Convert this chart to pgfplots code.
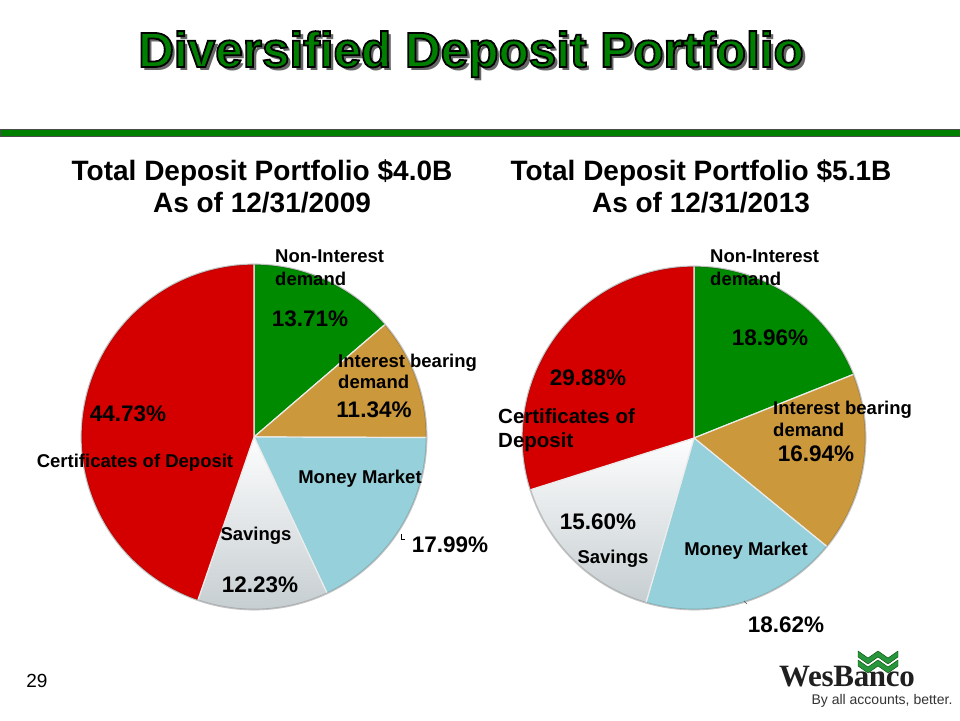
\documentclass[border=0pt]{standalone}
\usepackage{pgfplots}
\pgfplotsset{compat=1.18}
\usepackage{fontspec}
\setmainfont{Liberation Sans}
\newfontfamily\logoserif{Liberation Serif}
\definecolor{tgreen}{RGB}{0,128,0}
\definecolor{sgreen}{RGB}{0,138,0}
\definecolor{sred}{RGB}{212,0,0}
\definecolor{stan}{RGB}{204,152,60}
\definecolor{sblue}{RGB}{150,208,218}
\definecolor{ssav}{RGB}{222,232,236}
\definecolor{logogreen}{RGB}{40,150,60}
\newcommand{\fs}[2]{\fontsize{#1}{#2}\selectfont}
\newcommand{\lbl}{\fs{18.5}{23}\bfseries}
\newcommand{\pct}{\fs{22.5}{26}\bfseries}
\newcommand{\ttext}{\fs{49.5}{50}\bfseries Diversified Deposit Portfolio}
\begin{document}
\begin{tikzpicture}
\begin{axis}[width=960pt,height=720pt,scale only axis,
  xmin=0,xmax=960,ymin=0,ymax=720,hide axis,clip=false]
% ---------- left pie (2009): 13.71, 11.34, 17.99, 12.23, 44.73 ----------
\addplot[fill=sgreen,draw=white!85!gray,line width=1.2pt,domain={90-3.6*13.71}:{90},samples=60,variable=\t]
  ({254+173*cos(\t)},{283+173*sin(\t)}) -- (axis cs:254,283) -- cycle;
\addplot[fill=stan,draw=white!85!gray,line width=1.2pt,domain={90-3.6*(13.71+11.34)}:{90-3.6*13.71},samples=60,variable=\t]
  ({254+173*cos(\t)},{283+173*sin(\t)}) -- (axis cs:254,283) -- cycle;
\addplot[fill=sblue,draw=white!85!gray,line width=1.2pt,domain={90-3.6*(13.71+11.34+17.99)}:{90-3.6*(13.71+11.34)},samples=60,variable=\t]
  ({254+173*cos(\t)},{283+173*sin(\t)}) -- (axis cs:254,283) -- cycle;
\addplot[top color=white!92!ssav,bottom color=ssav!75!gray,draw=white!85!gray,line width=1.2pt,domain={90-3.6*(13.71+11.34+17.99+12.23)}:{90-3.6*(13.71+11.34+17.99)},samples=60,variable=\t]
  ({254+173*cos(\t)},{283+173*sin(\t)}) -- (axis cs:254,283) -- cycle;
\addplot[fill=sred,draw=white!85!gray,line width=1.2pt,domain={90-3.6*100}:{90-3.6*(13.71+11.34+17.99+12.23)},samples=100,variable=\t]
  ({254+173*cos(\t)},{283+173*sin(\t)}) -- (axis cs:254,283) -- cycle;
\draw[black,opacity=0.18,line width=1.6pt] (axis cs:254,283) circle[radius=172.5];
% ---------- right pie (2013): 18.96, 16.94, 18.62, 15.60, 29.88 ----------
\addplot[fill=sgreen,draw=white!85!gray,line width=1.2pt,domain={90-3.6*18.96}:{90},samples=60,variable=\t]
  ({694+172*cos(\t)},{282+172*sin(\t)}) -- (axis cs:694,282) -- cycle;
\addplot[fill=stan,draw=white!85!gray,line width=1.2pt,domain={90-3.6*(18.96+16.94)}:{90-3.6*18.96},samples=60,variable=\t]
  ({694+172*cos(\t)},{282+172*sin(\t)}) -- (axis cs:694,282) -- cycle;
\addplot[fill=sblue,draw=white!85!gray,line width=1.2pt,domain={90-3.6*(18.96+16.94+18.62)}:{90-3.6*(18.96+16.94)},samples=60,variable=\t]
  ({694+172*cos(\t)},{282+172*sin(\t)}) -- (axis cs:694,282) -- cycle;
\addplot[top color=white!92!ssav,bottom color=ssav!75!gray,draw=white!85!gray,line width=1.2pt,domain={90-3.6*(18.96+16.94+18.62+15.60)}:{90-3.6*(18.96+16.94+18.62)},samples=60,variable=\t]
  ({694+172*cos(\t)},{282+172*sin(\t)}) -- (axis cs:694,282) -- cycle;
\addplot[fill=sred,draw=white!85!gray,line width=1.2pt,domain={90-3.6*100}:{90-3.6*(18.96+16.94+18.62+15.60)},samples=80,variable=\t]
  ({694+172*cos(\t)},{282+172*sin(\t)}) -- (axis cs:694,282) -- cycle;
\draw[black,opacity=0.18,line width=1.6pt] (axis cs:694,282) circle[radius=171.5];

% ---------- title: shadow, then green text with black outline ----------
\node[anchor=base,text=black!60] at (axis cs:474.5,649.5) {\ttext};
\node[anchor=base,text=tgreen] at (axis cs:471,653) {\special{pdf:literal direct 2 Tr 1.8 w 0 0 0 RG}\ttext\special{pdf:literal direct 0 Tr}};
% ---------- rule ----------
\draw[fill=tgreen,draw=black!70,line width=0.6pt] (axis cs:0,584) rectangle (axis cs:960,591);
% ---------- subtitles ----------
\node[anchor=base] at (axis cs:262,539) {\fs{28}{28}\bfseries Total Deposit Portfolio \$4.0B};
\node[anchor=base] at (axis cs:262,507) {\fs{28}{28}\bfseries As of 12/31/2009};
\node[anchor=base] at (axis cs:701,539) {\fs{28}{28}\bfseries Total Deposit Portfolio \$5.1B};
\node[anchor=base] at (axis cs:701,507) {\fs{28}{28}\bfseries As of 12/31/2013};
% ---------- left labels ----------
\node[anchor=base west,inner sep=0pt,font=\lbl] at (axis cs:275,457) {Non-Interest};
\node[anchor=base west,inner sep=0pt,font=\lbl] at (axis cs:275,434) {demand};
\node[inner sep=0pt,font=\pct] at (axis cs:310,401) {13.71\%};
\node[anchor=base west,inner sep=0pt,font=\lbl] at (axis cs:338,352) {Interest bearing};
\node[anchor=base west,inner sep=0pt,font=\lbl] at (axis cs:338,331) {demand};
\node[inner sep=0pt,font=\pct] at (axis cs:374,310) {11.34\%};
\node[inner sep=0pt,font=\pct] at (axis cs:128,306) {44.73\%};
\node[inner sep=0pt,font=\lbl] at (axis cs:135,257) {Certificates of Deposit};
\node[inner sep=0pt,font=\lbl] at (axis cs:360,241) {Money Market};
\node[inner sep=0pt,font=\lbl] at (axis cs:256,184) {Savings};
\node[inner sep=0pt,font=\pct] at (axis cs:260,135) {12.23\%};
\node[inner sep=0pt,font=\pct] at (axis cs:450,175) {17.99\%};
\draw[black,line width=0.5pt] (axis cs:401,186) -- (axis cs:401,181) -- (axis cs:405,181);
% ---------- right labels ----------
\node[anchor=base west,inner sep=0pt,font=\lbl] at (axis cs:710,457) {Non-Interest};
\node[anchor=base west,inner sep=0pt,font=\lbl] at (axis cs:710,434) {demand};
\node[inner sep=0pt,font=\pct] at (axis cs:770,382) {18.96\%};
\node[inner sep=0pt,font=\pct] at (axis cs:588,342) {29.88\%};
\node[anchor=west,align=left,inner sep=0pt,font={\fs{20.5}{24}\bfseries}] at (axis cs:498,290) {Certificates of\\Deposit};
\node[anchor=base west,inner sep=0pt,font=\lbl] at (axis cs:773,305) {Interest bearing};
\node[anchor=base west,inner sep=0pt,font=\lbl] at (axis cs:773,283) {demand};
\node[inner sep=0pt,font=\pct] at (axis cs:816,266) {16.94\%};
\node[inner sep=0pt,font=\pct] at (axis cs:598,198) {15.60\%};
\node[inner sep=0pt,font=\lbl] at (axis cs:613,161) {Savings};
\node[inner sep=0pt,font=\lbl] at (axis cs:746,169) {Money Market};
\node[inner sep=0pt,font=\pct] at (axis cs:786,95) {18.62\%};
\draw[black!70,line width=0.5pt] (axis cs:744,119) -- (axis cs:747,116);
% ---------- footer ----------
\node[inner sep=0pt,font={\fs{19}{20}}] at (axis cs:37,39) {29};
\node[anchor=base,inner sep=0pt,text=black!88] at (axis cs:847,34) {\logoserif\fs{31}{32}\bfseries\addfontfeatures{LetterSpace=-1}WesBanco};
\node[inner sep=0pt,text=black!80,font={\fs{14}{15}}] at (axis cs:882,19) {By all accounts, better.};
\fill[logogreen,draw=green!30!black,line width=0.4pt] (axis cs:858,69) -- (axis cs:868,62) -- (axis cs:878,69) -- (axis cs:888,62) -- (axis cs:898,69) -- (axis cs:898,63) -- (axis cs:888,56) -- (axis cs:878,63) -- (axis cs:868,56) -- (axis cs:858,63) -- cycle;
\fill[logogreen,draw=green!30!black,line width=0.4pt] (axis cs:858,60) -- (axis cs:868,53) -- (axis cs:878,60) -- (axis cs:888,53) -- (axis cs:898,60) -- (axis cs:898,54) -- (axis cs:888,47) -- (axis cs:878,54) -- (axis cs:868,47) -- (axis cs:858,54) -- cycle;
\end{axis}
\pgfresetboundingbox
\path[use as bounding box] (0,0) rectangle (960pt,720pt);
\end{tikzpicture}
\end{document}
